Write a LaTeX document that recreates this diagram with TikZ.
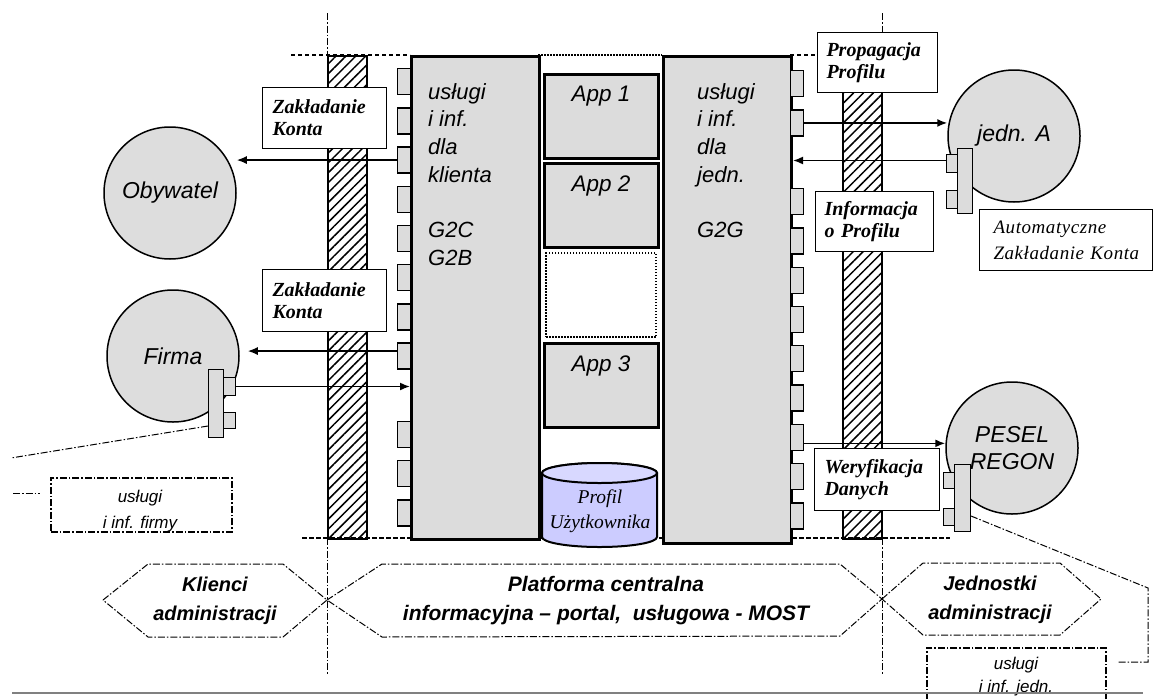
\documentclass[tikz,border=0pt]{standalone}
\usepackage{fontspec}
\setmainfont{Liberation Serif}
\newfontfamily\arialf{Liberation Sans}
\usetikzlibrary{arrows.meta,patterns.meta}
\definecolor{boxgray}{RGB}{220,220,220}
\definecolor{circgray}{RGB}{221,221,221}
\definecolor{lav}{RGB}{204,204,255}
\definecolor{lavtop}{RGB}{216,216,255}
\definecolor{rulegray}{RGB}{128,128,128}
\newcommand\setfs[2]{\fontsize{#1}{#2}\selectfont}
\begin{document}
\begin{tikzpicture}[x=1pt,y=-1pt,
  sep/.style={line width=0.9pt,dash pattern=on 7pt off 2pt on 1.5pt off 2pt},
  dashdotln/.style={line width=1pt,dash pattern=on 7pt off 2pt on 1.5pt off 2pt},
  hatchbar/.style={draw,line width=2pt,pattern={Lines[angle=45,distance=7pt,line width=1.5pt]},minimum width=39pt,minimum height=483pt,inner sep=0pt,anchor=north west},
  bigbox/.style={draw,line width=3pt,fill=boxgray,inner sep=0pt,anchor=north west,minimum width=128pt},
  tab/.style={draw,line width=1.3pt,fill=boxgray,inner sep=0pt,anchor=north west,minimum width=13pt,minimum height=26pt},
  plug/.style={draw,line width=1pt,fill=boxgray,inner sep=0pt,anchor=north west},
  app/.style={draw,line width=3pt,fill=boxgray,inner sep=0pt,anchor=north west,minimum width=114pt,minimum height=84pt},
  apptxt/.style={font=\arialf\itshape\setfs{22.5}{26}},
  coltxt/.style={font=\arialf\itshape\setfs{22}{27.7},align=left,anchor=north west,inner sep=0pt},
  circ/.style={circle,draw,line width=1.5pt,fill=circgray,minimum size=132pt,inner sep=0pt,font=\arialf\itshape\setfs{23}{27},align=center},
  lbl/.style={draw,line width=1pt,fill=white,anchor=north west,inner ysep=0pt,inner xsep=10pt,align=left,font=\bfseries\itshape\setfs{20}{22}},
  hextxt/.style={font=\arialf\bfseries\itshape\setfs{20}{29},align=center},
  smalltxt/.style={font=\arialf\itshape\setfs{17}{26},align=center,anchor=north,inner sep=0pt},
  arr/.style={line width=1.6pt,-{Latex[length=10pt,width=8pt]}}
]
\useasboundingbox[fill=white] (0,0) rectangle (1153,699);

% separator lines
\draw[sep] (327,13) -- (327,675);
\draw[sep] (882,13) -- (882,675);
\draw[line width=2pt,dash pattern=on 4pt off 3pt] (291,55) -- (410,55);
\draw[line width=1.5pt,dash pattern=on 2pt off 1pt] (538,55) -- (662,55);
\draw[line width=2pt,dash pattern=on 4pt off 3pt] (790,55) -- (815,55);
\draw[line width=1.2pt,dash pattern=on 5pt off 2pt] (302,538) -- (950,538);

% hatched bars
\node[hatchbar] (hatchL) at (327,55) {};
\node[hatchbar] (hatchR) at (842,55) {};

% big boxes
\node[bigbox,minimum height=483pt] (bigL) at (410,55) {};
\node[bigbox,minimum height=487pt] (bigR) at (662,55) {};
\node[coltxt] (txtL) at (428,83) {usługi\\i inf.\\dla\\klienta\\[27.7pt]G2C\\G2B};
\node[coltxt] (txtR) at (697,83) {usługi\\i inf.\\dla\\jedn.\\[27.7pt]G2G};

% tabs
\foreach \k in {0,1,2,3,4,5,6,7,9,10,11}
  \node[tab] (tabL\k) at (397,{68+39.2*\k}) {};
\foreach \k in {0,1,3,4,5,6,7,8,9,10,11}
  \node[tab] (tabR\k) at (790,{70+39.3*\k}) {};

% apps
\node[app] (app1) at (543,73) {};
\node[app] (app2) at (543,162) {};
\node[draw,line width=2pt,dash pattern=on 1.5pt off 1.5pt,fill=white,inner sep=0pt,anchor=north west,minimum width=110pt,minimum height=84pt] (appempty) at (545,252) {};
\node[app] (app3) at (543,342) {};
\node[apptxt] (app1t) at (601,96) {App 1};
\node[apptxt] (app2t) at (601,186) {App 2};
\node[apptxt] (app3t) at (601,366) {App 3};

% cylinder
\filldraw[fill=lav,line width=2pt] (542,473) -- (542,537) arc[start angle=180,end angle=360,x radius=57.5pt,y radius=10pt] -- (657,473) arc[start angle=0,end angle=180,x radius=57.5pt,y radius=10pt] -- cycle;
\filldraw[fill=lavtop,line width=2pt] (599.5,473) ellipse[x radius=57.5pt,y radius=10pt];
\node[font=\itshape\setfs{19.5}{25},align=center,inner sep=0pt] (profil) at (600,511) {Profil\\Użytkownika};

% circles
\node[circ] (oby) at (170,193) {Obywatel};
\node[circ] (firma) at (173,356) {Firma};
\node[circ] (jednA) at (1014,136) {jedn. A};
\node[circ] (pesel) at (1012,448) {PESEL\\REGON};

% plugs
\node[plug,minimum width=15pt,minimum height=68pt] (fplug) at (208,369) {};
\node[plug,minimum width=12pt,minimum height=18pt] (ftab1) at (223,377) {};
\node[plug,minimum width=12pt,minimum height=16pt] (ftab2) at (223,412) {};
\node[plug,minimum width=11pt,minimum height=18pt] (jtab1) at (946,154) {};
\node[plug,minimum width=11pt,minimum height=18pt] (jtab2) at (946,190) {};
\node[plug,minimum width=15pt,minimum height=65pt] (jplug) at (957,148) {};
\node[plug,minimum width=11pt,minimum height=16pt] (ptab1) at (943,472) {};
\node[plug,minimum width=11pt,minimum height=17pt] (ptab2) at (943,508) {};
\node[plug,minimum width=16pt,minimum height=67pt] (pplug) at (954,464) {};

% label boxes
\node[lbl,text width=104pt,minimum height=61pt] (zak1) at (262,87) {Zakładanie\\Konta};
\node[lbl,text width=104pt,minimum height=62pt] (zak2) at (262,269) {Zakładanie\\Konta};
\node[lbl,text width=102pt,minimum height=60pt,inner xsep=9pt] (prop) at (817,32) {Propagacja\\Profilu};
\node[lbl,text width=100pt,minimum height=60pt,inner xsep=9pt] (info) at (815,191) {Informacja\\o Profilu};
\node[lbl,text width=105pt,minimum height=62pt] (wer) at (814,448) {Weryfikacja\\Danych};
\node[lbl,text width=153pt,inner xsep=10pt,minimum height=61pt,font=\itshape\setfs{19}{26}\addfontfeature{LetterSpace=3}] (auto) at (979,209) {\hspace*{4pt}Automatyczne\\\hspace*{4pt}Zakładanie Konta};

% arrows
\draw[arr] (tabL2.west) -- (tabL2.west -| oby.east);
\draw[arr] ([yshift=5pt]tabL7.west) -- ([yshift=5pt,xshift=8pt]tabL7.west -| firma.east);
\draw[arr] (ftab1.east) -- (ftab1.east -| bigL.west);
\draw[arr] (tabR1.east) -- (tabR1.east -| jednA.west);
\draw[arr] ([yshift=3pt]jtab1.west) -- ([yshift=3pt]jtab1.west -| bigR.east);
\draw[arr] ([yshift=-6pt]tabR9.east) -- ([yshift=-6pt]tabR9.east -| pesel.west);

% callout boxes and lines
\coordinate (fl1) at (11,458);
\coordinate (fl2a) at (13,493);
\coordinate (fl2b) at (40,493);
\draw[dashdotln] ([yshift=12pt]fplug.south west) -- (fl1);
\draw[dashdotln] (fl2a) -- (fl2b);
\node[draw,dashdotln,line width=1.5pt,inner sep=0pt,anchor=north west,minimum width=181pt,minimum height=54pt] (firmbox) at (50,477) {};
\node[smalltxt] (firmboxt) at (140,490) {usługi\\i inf. firmy};

\coordinate (pl1) at (1148,588);
\coordinate (pl2) at (1148,662);
\coordinate (pl3) at (1117,662);
\draw[dashdotln] ([yshift=16pt]pplug.south east) -- (pl1) -- (pl2) -- (pl3);
\node[draw,dashdotln,line width=1.5pt,inner sep=0pt,anchor=north west,minimum width=179pt,minimum height=60pt] (jednbox) at (926,647) {};
\node[smalltxt,font=\arialf\itshape\setfs{17}{23}] (jednboxt) at (1016,657) {usługi\\i inf. jedn.};

% hexagons
\coordinate (k1) at (103,600); \coordinate (k2) at (148,564); \coordinate (k3) at (283,564);
\coordinate (k4) at (327,600); \coordinate (k5) at (283,637); \coordinate (k6) at (148,637);
\draw[dashdotln] (k1) -- (k2) -- (k3) -- (k4) -- (k5) -- (k6) -- cycle;
\coordinate (p2) at (382,564); \coordinate (p3) at (840,564);
\coordinate (p4) at (882,599); \coordinate (p5) at (840,636); \coordinate (p6) at (382,637);
\draw[dashdotln] (k4) -- (p2) -- (p3) -- (p4) -- (p5) -- (p6) -- cycle;
\coordinate (j2) at (923,563); \coordinate (j3) at (1060,563);
\coordinate (j4) at (1101,599); \coordinate (j5) at (1060,635); \coordinate (j6) at (923,635);
\draw[dashdotln] (p4) -- (j2) -- (j3) -- (j4) -- (j5) -- (j6) -- cycle;
\node[hextxt] (klienci) at (215,601) {Klienci\\administracji};
\node[hextxt,font=\arialf\bfseries\itshape\setfs{21}{29}] (platforma) at (606,601) {Platforma centralna\\informacyjna – portal,\ \ usługowa - MOST};
\node[hextxt] (jednostki) at (990,600) {Jednostki\\administracji};

% bottom rule
\coordinate (r1) at (12,693); \coordinate (r2) at (1143,693);
\draw[rulegray,line width=2pt] (r1) -- (r2);
\end{tikzpicture}
\end{document}
